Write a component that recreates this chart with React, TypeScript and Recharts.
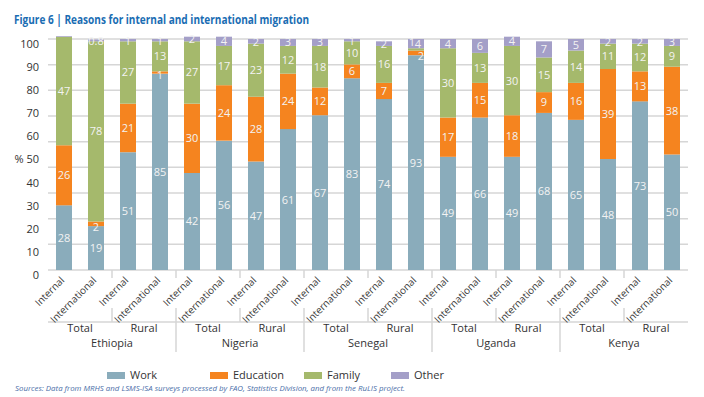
import React from "react";
import { BarChart, Bar, XAxis, YAxis, CartesianGrid, LabelList } from "recharts";

const countries = ["Ethiopia", "Nigeria", "Senegal", "Uganda", "Kenya"];
const areas = ["Total", "Rural"];
const migrationTypes = ["Internal", "International"];

const work = [28, 19, 51, 85, 42, 56, 47, 61, 67, 83, 74, 93, 49, 66, 49, 68, 65, 48, 73, 50];
const education = [26, 2, 21, 1, 30, 24, 28, 24, 12, 6, 7, 2, 17, 15, 18, 9, 16, 39, 13, 38];
const family = [47, 78, 27, 13, 27, 17, 23, 12, 18, 10, 16, 1, 30, 13, 30, 15, 14, 11, 12, 9];
const other = [0.3, 0.8, 1, 1, 2, 4, 2, 3, 3, 1, 2, 4, 4, 6, 4, 7, 5, 2, 2, 3];

const yTicks = [0, 10, 20, 30, 40, 50, 60, 70, 80, 90, 100];
const gridLevels = [0, 11.11, 22.22, 33.33, 44.44, 55.56, 66.67, 77.78, 88.89, 100];
const Y_MAX = 100;

const series = [
  { key: "work", name: "Work", color: "#8aacbb" },
  { key: "education", name: "Education", color: "#f5841f" },
  { key: "family", name: "Family", color: "#a5b96c" },
  { key: "other", name: "Other", color: "#a49fc8" },
];
const legendLeft = [107, 210, 304, 391];

const data = work.map((w, i) => ({
  key: String(i),
  type: migrationTypes[i % 2],
  area: areas[Math.floor(i / 2) % 2],
  country: countries[Math.floor(i / 4)],
  work: w,
  education: education[i],
  family: family[i],
  other: other[i],
}));

const FONT = "'Liberation Sans Narrow', 'Open Sans', 'Noto Sans', sans-serif";
const GRID = "#d6d6d6";

const gridCoords = (p: any) => {
  const sc = p && p.yAxis && p.yAxis.scale;
  if (typeof sc === "function") return gridLevels.map((v) => sc(v));
  if (sc && typeof sc.map === "function") return gridLevels.map((v) => sc.map(v));
  const off = p && p.offset;
  if (off) return gridLevels.map((v) => off.top + off.height * (1 - v / Y_MAX));
  return [];
};

const makeLabel = (seriesKey: string) => (props: any) => {
  const { x, y, width, height, value, index } = props;
  if (value == null || value < 0.5) return null;
  const tiny = Math.abs(height) < 6;
  let dx = 0;
  let dy = 0;
  if (tiny) {
    if (seriesKey === "other") dy = 0.5;
    if (seriesKey === "education") {
      dy = 3;
      if (family[index] != null && family[index] <= 2) dx = 5;
    }
    if (seriesKey === "family") {
      dx = -4;
      dy = -7;
    }
  } else if (seriesKey === "other" && family[index] != null && family[index] <= 2) {
    dx = 2;
  }
  return (
    <text
      x={x + width / 2 + dx}
      y={y + height / 2 + dy}
      dy="0.36em"
      textAnchor="middle"
      fontSize={11}
      fontFamily={FONT}
      fill="#f3f3f3"
    >
      {value}
    </text>
  );
};

const YTick = (props: any) => {
  const { x, y, payload } = props;
  const v = payload.value;
  return (
    <text x={x} y={y + 5} dy="0.36em" textAnchor="end" fontSize={11} fontFamily={FONT} fill="#333">
      {v === 50 ? "% 50" : v}
    </text>
  );
};

const XTick = (props: any) => {
  const { x, y, payload, index } = props;
  const i = payload && payload.index != null ? payload.index : index;
  const row = data[i];
  if (!row) return null;
  const half = payload && payload.offset ? payload.offset : 16;
  const n = data.length;
  const els: any[] = [];
  const ax = x + 1;
  const ay = y + 11;
  els.push(
    <text
      key="t"
      x={ax}
      y={ay}
      transform={`rotate(-45 ${ax} ${ay})`}
      textAnchor="end"
      fontSize={10}
      fontFamily={FONT}
      fill="#3a3a3a"
    >
      {row.type}
    </text>
  );
  els.push(
    <line key="h" x1={x - half} x2={x + half} y1={y + 52} y2={y + 52} stroke={GRID} strokeWidth={1.5} />
  );
  if (i % 2 === 1 && i < n - 1) {
    const bx = x + half;
    els.push(<line key="s1" x1={bx} x2={bx} y1={y} y2={y + 8} stroke={GRID} strokeWidth={1.5} />);
    els.push(
      <line key="s2" x1={bx} x2={bx} y1={y + 38} y2={i % 4 === 3 ? y + 82 : y + 52} stroke={GRID} strokeWidth={1.5} />
    );
  }
  if (i % 2 === 0) {
    els.push(
      <text key="a" x={x + half} y={y + 62} textAnchor="middle" fontSize={11} fontFamily={FONT} fill="#333">
        {row.area}
      </text>
    );
  }
  if (i % 4 === 1) {
    els.push(
      <text key="c" x={x + half} y={y + 77} textAnchor="middle" fontSize={11} fontFamily={FONT} fill="#333">
        {row.country}
      </text>
    );
  }
  return <g>{els}</g>;
};

export default function App() {
  return (
    <div style={{ position: "absolute", left: 0, top: 0, width: 704, height: 397, background: "#fff", overflow: "hidden" }}>
      <BarChart
        width={704}
        height={397}
        data={data}
        margin={{ top: 36, right: 16, bottom: 27, left: 8 }}
        barCategoryGap="25%"
      >
        <CartesianGrid vertical={false} stroke={GRID} strokeWidth={1.5} horizontalCoordinatesGenerator={gridCoords} />
        <YAxis
          domain={[0, Y_MAX]}
          ticks={yTicks}
          width={40}
          axisLine={false}
          tickLine={false}
          tickSize={0}
          tickMargin={9}
          tick={<YTick />}
          interval={0}
        />
        <XAxis
          dataKey="key"
          height={100}
          axisLine={false}
          tickLine={false}
          tickSize={0}
          tickMargin={0}
          interval={0}
          tick={<XTick />}
        />
        {series.map((s) => (
          <Bar key={s.key} dataKey={s.key} name={s.name} stackId="a" fill={s.color} isAnimationActive={false}>
            <LabelList dataKey={s.key} content={makeLabel(s.key)} />
          </Bar>
        ))}
      </BarChart>
      <svg width={704} height={397} style={{ position: "absolute", left: 0, top: 0, pointerEvents: "none" }}>
        <text
          x={14}
          y={24}
          fontSize={12}
          fontWeight="bold"
          fontFamily={FONT}
          fill="#1a6db3"
          textLength={295}
          lengthAdjust="spacingAndGlyphs"
        >
          Figure 6 | Reasons for internal and international migration
        </text>
        <text
          x={15}
          y={391}
          fontSize={8}
          fontStyle="italic"
          fontFamily={FONT}
          fill="#4a6ea8"
          textLength={390}
          lengthAdjust="spacingAndGlyphs"
        >
          Sources: Data from MRHS and LSMS-ISA surveys processed by FAO, Statistics Division, and from the RuLIS project.
        </text>
      </svg>
      {series.map((s, i) => (
        <div
          key={s.key}
          style={{
            position: "absolute",
            left: legendLeft[i],
            top: 369,
            height: 12,
            lineHeight: "12px",
            display: "flex",
            alignItems: "center",
            fontFamily: FONT,
            fontSize: 11,
            color: "#333",
            whiteSpace: "nowrap",
          }}
        >
          <span style={{ display: "inline-block", width: 18, height: 7, background: s.color, marginRight: 5 }} />
          {s.name}
        </div>
      ))}
    </div>
  );
}
